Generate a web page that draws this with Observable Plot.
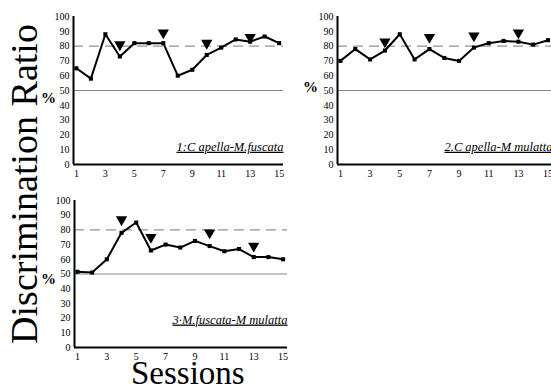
<!DOCTYPE html>
<html>
<head>
<meta charset="utf-8">
<script src="https://cdn.jsdelivr.net/npm/d3@7"></script>
<script src="https://cdn.jsdelivr.net/npm/@observablehq/plot@0.6"></script>
<style>
  html, body { margin:0; padding:0; background:#fff; overflow:hidden; }
  #wrap { position:relative; width:551px; height:386px; overflow:hidden; font-family:"Liberation Serif","Times New Roman",serif; }
  #wrap svg, #wrap svg text { font-family:"Liberation Serif","Times New Roman",serif !important; }
  .abs { position:absolute; }
  .pct { position:absolute; font-weight:bold; font-size:15px; line-height:15px; }
</style>
</head>
<body>
<div id="wrap"></div>
<script>
const sessions = [1,2,3,4,5,6,7,8,9,10,11,12,13,14,15];
const ratio1 = [65,58,88,73,82,82,82,60,64,74,79,84.5,83,86.5,82];
const ratio2 = [70,78,71,77,88,71,78,72,70,79,82,83.5,83,81,84];
const ratio3 = [51.5,51,60,78,85,66,70,68,72.5,69,65.5,67,61.5,61.5,60];
const arrowSessions1 = [4,7,10,13];
const arrowLevels1 = [81,89,82,86];
const arrowSessions2 = [4,7,10,13];
const arrowLevels2 = [83,86,87,89];
const arrowSessions3 = [4,6,10,13];
const arrowLevels3 = [87,75,78,69];
const labels = ["1:C apella-M.fuscata", "2.C apella-M mulatta", "3·M.fuscata-M mulatta"];
const xTicks = [1,3,5,7,9,11,13,15];
const yTicks = [0,10,20,30,40,50,60,70,80,90,100];
const criterion = 80;
const chance = 50;

const serif = "Liberation Serif, Times New Roman, serif";
const wrap = document.getElementById("wrap");

function panel(values, arrS, arrV, label, labelY, width, height) {
  const data = sessions.map((s, i) => ({s, v: values[i]}));
  const arrows = arrS.map((s, i) => ({s, v: arrV[i]}));
  const p = Plot.plot({
    width, height,
    marginLeft: 30, marginRight: 5, marginTop: 6, marginBottom: 20,
    x: {domain: [0.8, 15.3], ticks: xTicks, tickSize: 0, tickPadding: 5, label: null, tickFormat: d => d},
    y: {domain: [0, 100], ticks: yTicks, tickSize: 0, tickPadding: 4, label: null},
    style: {fontFamily: serif, fontSize: "10px", color: "#000", background: "transparent", overflow: "visible"},
    marks: [
      Plot.ruleY([chance], {stroke: "#888", strokeWidth: 1}),
      Plot.ruleY([criterion], {stroke: "#777", strokeWidth: 1, strokeDasharray: "10,6"}),
      Plot.ruleX([0.8], {stroke: "#000", strokeWidth: 2}),
      Plot.ruleY([0], {stroke: "#000", strokeWidth: 2}),
      Plot.line(data, {x: "s", y: "v", stroke: "#000", strokeWidth: 2}),
      Plot.dot(data, {x: "s", y: "v", symbol: "square", r: 2.3, fill: "#000", stroke: "none"}),
      Plot.dot(arrows, {x: "s", y: "v", symbol: "triangle", r: 4.2, fill: "#000", stroke: "none", rotate: 180}),
      Plot.text([label], {x: 15.3, y: labelY, text: d => d, textAnchor: "end", fontStyle: "italic", fontSize: 12.5})
    ]
  });
  p.querySelectorAll("text").forEach(t => {
    if (t.textContent === label) t.setAttribute("text-decoration", "underline");
  });
  return p;
}

function place(el, left, top) {
  el.style.position = "absolute";
  el.style.left = left + "px";
  el.style.top = top + "px";
  wrap.appendChild(el);
}

place(panel(ratio1, arrowSessions1, arrowLevels1, labels[0], 12, 245, 174), 43, 10);
place(panel(ratio2, arrowSessions2, arrowLevels2, labels[1], 12, 250, 174), 307, 10);
place(panel(ratio3, arrowSessions3, arrowLevels3, labels[2], 19, 248, 173), 44, 194);

function addText(txt, cls, left, top, extra) {
  const d = document.createElement("div");
  d.className = cls;
  d.textContent = txt;
  d.style.left = left + "px";
  d.style.top = top + "px";
  Object.assign(d.style, extra || {});
  wrap.appendChild(d);
  return d;
}
addText("%", "pct", 41, 91);
addText("%", "pct", 303, 80);
addText("%", "pct", 41, 272);

addText("Sessions", "abs", 131, 361, {fontSize: "33px", lineHeight: "24px"});
addText("Discrimination Ratio", "abs", 24, 184, {
  fontSize: "38px", lineHeight: "38px", whiteSpace: "nowrap",
  transform: "translate(-50%,-50%) rotate(-90deg)"
});
</script>
</body>
</html>
